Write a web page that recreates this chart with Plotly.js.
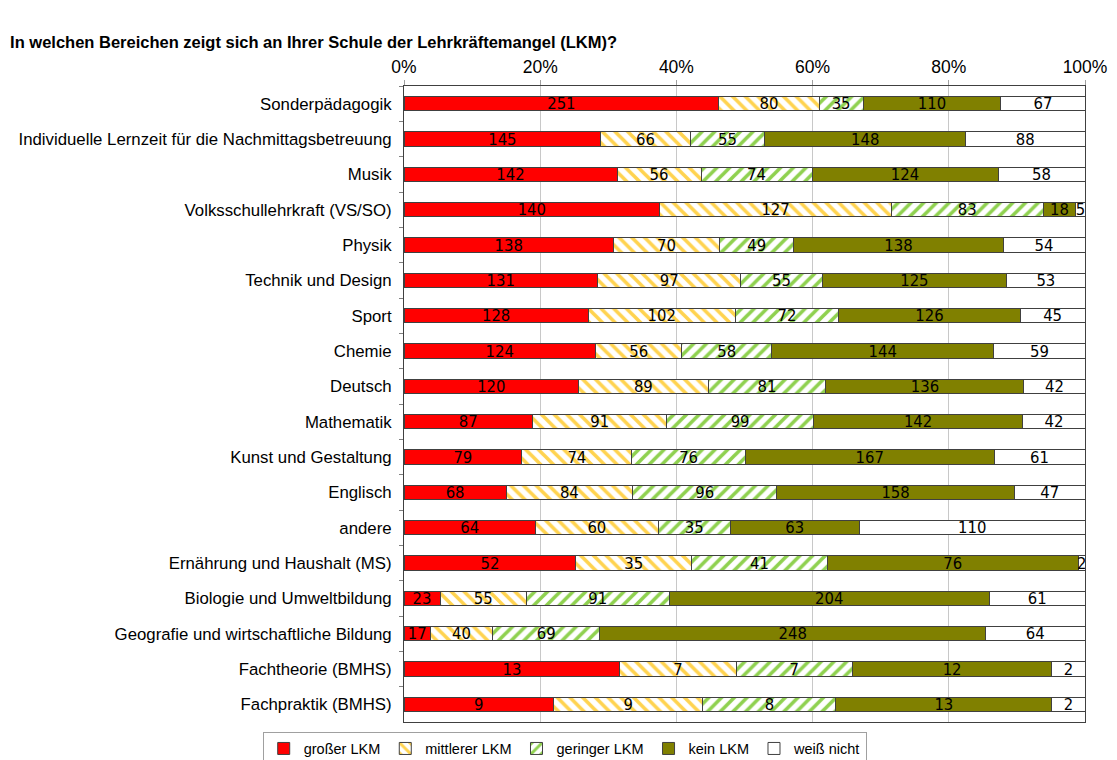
<!DOCTYPE html>
<html>
<head>
<meta charset="utf-8">
<script src="https://cdn.plot.ly/plotly-3.0.1.min.js"></script>
<style>
html,body{margin:0;padding:0;background:#fff;}
#chart{width:1117px;height:760px;}
#edge{position:absolute;left:7px;top:0;width:1px;height:760px;background:#d0d0d0;}
</style>
</head>
<body>
<div id="edge"></div>
<div id="chart"></div>
<script>
const categories = [
  "Sonderpädagogik",
  "Individuelle Lernzeit für die Nachmittagsbetreuung",
  "Musik",
  "Volksschullehrkraft (VS/SO)",
  "Physik",
  "Technik und Design",
  "Sport",
  "Chemie",
  "Deutsch",
  "Mathematik",
  "Kunst und Gestaltung",
  "Englisch",
  "andere",
  "Ernährung und Haushalt (MS)",
  "Biologie und Umweltbildung",
  "Geografie und wirtschaftliche Bildung",
  "Fachtheorie (BMHS)",
  "Fachpraktik (BMHS)"
];
const grosserLKM   = [251,145,142,140,138,131,128,124,120,87,79,68,64,52,23,17,13,9];
const mittlererLKM = [80,66,56,127,70,97,102,56,89,91,74,84,60,35,55,40,7,9];
const geringerLKM  = [35,55,74,83,49,55,72,58,81,99,76,96,35,41,91,69,7,8];
const keinLKM      = [110,148,124,18,138,125,126,144,136,142,167,158,63,76,204,248,12,13];
const weissNicht   = [67,88,58,5,54,53,45,59,42,42,61,47,110,2,61,64,2,2];
const seriesNames  = ["großer LKM","mittlerer LKM","geringer LKM","kein LKM","weiß nicht"];
const xTickVals    = [0,20,40,60,80,100];
const xTickText    = ["0%","20%","40%","60%","80%","100%"];

const lineStyle = {color:'#404040', width:1};
function bar(name, vals, marker){
  return {
    type:'bar', orientation:'h', name:name,
    y:categories, x:vals, text:vals.map(String),
    textposition:'inside', insidetextanchor:'middle', textangle:0,
    textfont:{family:'Liberation Sans Narrow, DejaVu Sans Condensed, Liberation Sans, Arial', size:16.5, color:'#000'},
    constraintext:'none',
    marker:Object.assign({line:lineStyle}, marker),
    hoverinfo:'name+text'
  };
}
const data = [
  bar(seriesNames[0], grosserLKM, {color:'#FF0000'}),
  bar(seriesNames[1], mittlererLKM, {color:'#FFFFFF', pattern:{shape:'\\', fgcolor:'#FFD34F', bgcolor:'#FFFFFF', size:9, solidity:0.4}}),
  bar(seriesNames[2], geringerLKM, {color:'#FFFFFF', pattern:{shape:'/', fgcolor:'#8FD14F', bgcolor:'#FFFFFF', size:9, solidity:0.4}}),
  bar(seriesNames[3], keinLKM, {color:'#808000'}),
  bar(seriesNames[4], weissNicht, {color:'#FFFFFF'})
];

const layout = {
  width:1117, height:760,
  margin:{l:404, r:32, t:86, b:38, autoexpand:false},
  paper_bgcolor:'#fff', plot_bgcolor:'#fff',
  font:{family:'Liberation Sans, Arial', size:16, color:'#000'},
  barmode:'stack', barnorm:'percent', bargap:0.6,
  uniformtext:{mode:'show', minsize:16.5},
  showlegend:true,
  title:{text:'<b>In welchen Bereichen zeigt sich an Ihrer Schule der Lehrkräftemangel (LKM)?</b>',
         xref:'container', x:0.009, xanchor:'left', yref:'container', y:0.945, yanchor:'middle',
         font:{family:'Liberation Sans, Arial', size:16.5, color:'#000'}},
  xaxis:{side:'top', range:[0,100], tickvals:xTickVals, ticktext:xTickText,
         showgrid:true, gridcolor:'#c8c8c8', gridwidth:1,
         ticks:'outside', ticklen:5, tickcolor:'#a0a0a0',
         showline:true, linecolor:'#404040', linewidth:1, mirror:true,
         zeroline:false, fixedrange:true, tickfont:{size:17.5}},
  yaxis:{autorange:'reversed', type:'category', tickson:'boundaries',
         ticks:'outside', ticklen:4, tickcolor:'#808080',
         showline:true, linecolor:'#404040', linewidth:1, mirror:true,
         showgrid:false, ticklabelstandoff:8, tickfont:{size:16.8}},
  legend:{orientation:'h', x:0.236, xanchor:'center', y:-0.015, yanchor:'top',
          bordercolor:'#a0a0a0', borderwidth:1, bgcolor:'#fff',
          font:{size:14.5}, traceorder:'normal', itemwidth:30, tracegroupgap:0},
  hovermode:false
};
Plotly.newPlot('chart', data, layout, {displayModeBar:false, staticPlot:true});
</script>
</body>
</html>
